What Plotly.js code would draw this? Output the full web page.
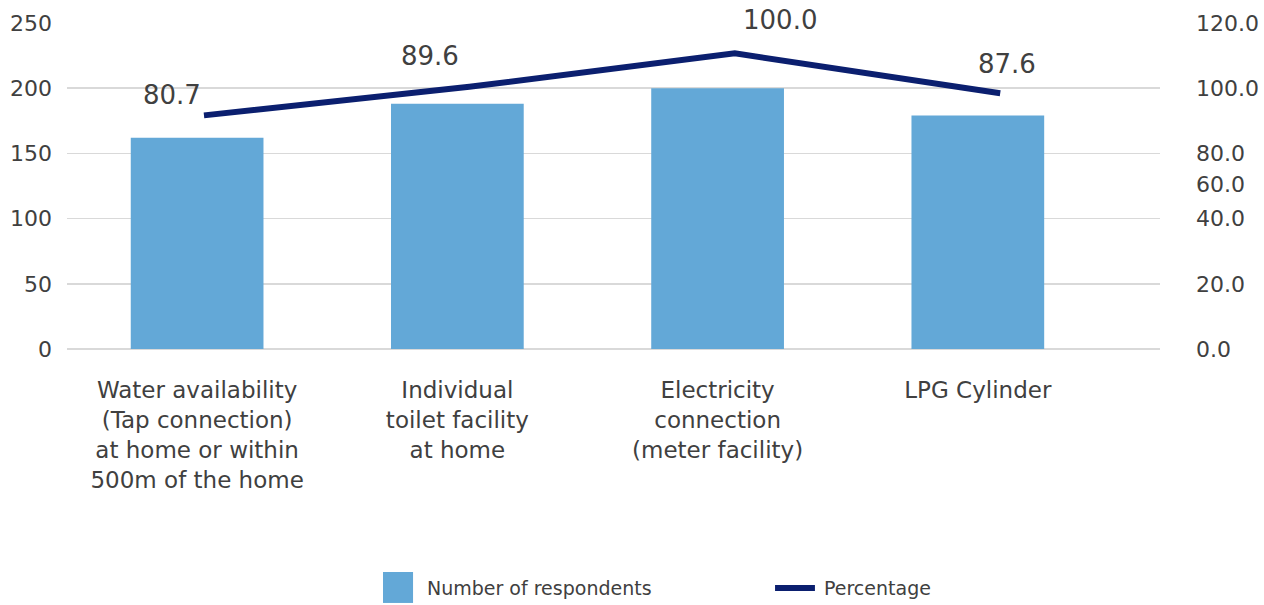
<!DOCTYPE html>
<html>
<head>
<meta charset="utf-8">
<script src="https://cdn.plot.ly/plotly-3.0.1.min.js"></script>
<style>
  html, body { margin: 0; padding: 0; background: #ffffff; }
  #chart { width: 1264px; height: 605px; }
</style>
</head>
<body>
<div id="chart"></div>
<script>
// Household amenities: respondents per facility and share of respondents
const categories = [
  "Water availability<br>(Tap connection)<br>at home or within<br>500m of the home",
  "Individual<br>toilet facility<br>at home",
  "Electricity<br>connection<br>(meter facility)",
  "LPG Cylinder"
];
const respondents = [162, 188, 200, 179];
const percentage = [80.7, 89.6, 100.0, 87.6];
const leftTickValues = [0, 50, 100, 150, 200, 250];
const rightTickText = ["0.0", "20.0", "40.0", "60.0", "80.0", "100.0", "120.0"];
const legendLabels = ["Number of respondents", "Percentage"];

const FONT = "DejaVu Sans, Noto Sans, sans-serif";
const TEXT = "#404040";
const BAR = "#63a8d7";
const LINE = "#0b1f6f";
const GRID = "#d9d9d9";

// percentage axis span; its labels sit level with the count gridlines
const PCT_RANGE = [8.06, 109.43];
const COUNT_MAX = 250;
const rightTickLevels = [0, 50, 100, 126, 150, 200, 250].map(
  c => PCT_RANGE[0] + c / COUNT_MAX * (PCT_RANGE[1] - PCT_RANGE[0])
);

const bars = {
  type: "bar",
  x: categories,
  y: respondents,
  name: legendLabels[0],
  marker: { color: BAR },
  width: 0.51,
  xaxis: "x",
  yaxis: "y",
  hoverinfo: "x+y"
};

const line = {
  type: "scatter",
  mode: "lines",
  x: categories,
  y: percentage,
  name: legendLabels[1],
  line: { color: LINE, width: 6 },
  xaxis: "x2",
  yaxis: "y2",
  hoverinfo: "y"
};

// value labels above the percentage line
const labelShift = [[-32, 20], [-39, 31], [45, 33], [7, 29]];
const valueLabels = percentage.map((v, i) => ({
  x: categories[i], y: v, xref: "x2", yref: "y2",
  text: v.toFixed(1), showarrow: false,
  xanchor: "center", yanchor: "middle",
  xshift: labelShift[i][0], yshift: labelShift[i][1],
  font: { family: FONT, size: 26, color: TEXT }
}));

// legend drawn below the plot
const legendText = [
  { x: 0.3275, y: -0.733, text: legendLabels[0] },
  { x: 0.6908, y: -0.733, text: legendLabels[1] }
].map(d => ({
  x: d.x, y: d.y, xref: "paper", yref: "paper", text: d.text,
  showarrow: false, xanchor: "left", yanchor: "middle",
  font: { family: FONT, size: 19, color: TEXT }
}));

const legendShapes = [
  { type: "rect", xref: "paper", yref: "paper", x0: 0.2891, x1: 0.3166, y0: -0.779, y1: -0.684,
    fillcolor: BAR, line: { width: 0 } },
  { type: "line", xref: "paper", yref: "paper", x0: 0.6478, x1: 0.6843, y0: -0.733, y1: -0.733,
    line: { color: LINE, width: 6 } }
];

const layout = {
  width: 1264,
  height: 605,
  margin: { l: 67, r: 104, t: 23, b: 256 },
  paper_bgcolor: "#ffffff",
  plot_bgcolor: "#ffffff",
  showlegend: false,
  font: { family: FONT, color: TEXT },
  xaxis: {
    type: "category",
    range: [-0.5, 3.7],
    showgrid: false,
    zeroline: false,
    showline: false,
    ticks: "",
    ticklabelstandoff: 25,
    tickfont: { family: FONT, size: 23, color: TEXT },
    fixedrange: true
  },
  xaxis2: {
    type: "category",
    overlaying: "x",
    range: [-0.516, 3.602],
    visible: false,
    fixedrange: true
  },
  yaxis: {
    range: [0, COUNT_MAX],
    tickvals: leftTickValues,
    showgrid: true,
    gridcolor: GRID,
    gridwidth: 1.5,
    zeroline: true,
    zerolinecolor: GRID,
    zerolinewidth: 1.5,
    showline: false,
    ticks: "",
    ticklabelstandoff: 14,
    tickfont: { family: FONT, size: 22, color: TEXT },
    fixedrange: true
  },
  yaxis2: {
    overlaying: "y",
    side: "right",
    anchor: "x2",
    range: PCT_RANGE,
    tickvals: rightTickLevels,
    ticktext: rightTickText,
    showgrid: false,
    zeroline: false,
    showline: false,
    ticks: "",
    ticklabelstandoff: 35,
    tickfont: { family: FONT, size: 22, color: TEXT },
    fixedrange: true
  },
  annotations: valueLabels.concat(legendText),
  shapes: legendShapes
};

Plotly.newPlot("chart", [bars, line], layout, { displayModeBar: false, staticPlot: true });
</script>
</body>
</html>
